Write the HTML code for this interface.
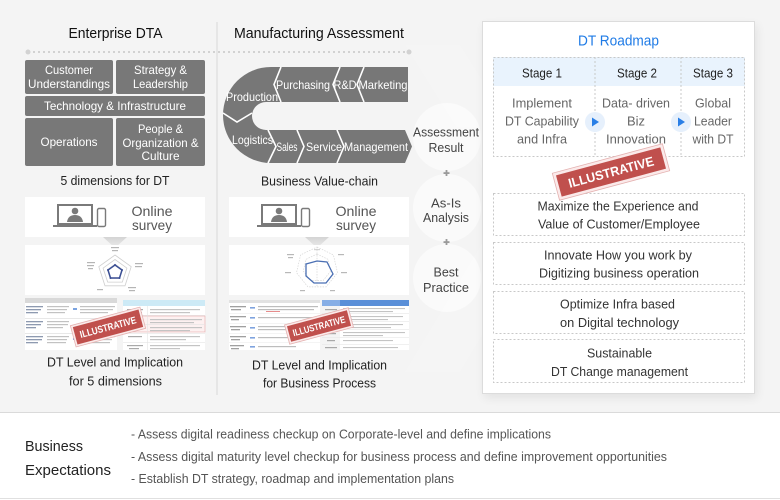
<!DOCTYPE html>
<html>
<head>
<meta charset="utf-8">
<style>
html,body{margin:0;padding:0;width:780px;height:500px;overflow:hidden;background:#fff}
svg{display:block}
text{font-family:"Liberation Sans","Noto Sans CJK KR",sans-serif}
</style>
</head>
<body>
<svg width="780" height="500" viewBox="0 0 780 500" xmlns="http://www.w3.org/2000/svg">
<defs>
  <filter id="sh" x="-20%" y="-20%" width="140%" height="140%"><feGaussianBlur stdDeviation="5"/></filter>
  <linearGradient id="tri" x1="0" y1="0" x2="0" y2="1"><stop offset="0" stop-color="#d4d4d4"/><stop offset="1" stop-color="#ececec"/></linearGradient>
</defs>

<!-- backgrounds -->
<rect x="0" y="0" width="780" height="412" fill="#f4f4f4"/>
<polygon points="405,45 460,45 560,205 460,372 405,372 505,205" fill="#ffffff" opacity="0.12"/>
<rect x="0" y="412" width="780" height="1" fill="#dadada"/>
<rect x="0" y="498" width="780" height="1" fill="#e0e0e0"/>

<!-- divider + dotted line -->
<rect x="216" y="22" width="2" height="373" fill="#e6e6e6"/>
<line x1="28" y1="52" x2="409" y2="52" stroke="#d2d2d2" stroke-width="2" stroke-dasharray="2 3"/>
<circle cx="28" cy="52" r="2.5" fill="#d2d2d2"/>
<circle cx="409" cy="52" r="2.5" fill="#d2d2d2"/>

<!-- ================= Column 1 ================= -->
<text x="115.5" y="38" text-anchor="middle" font-size="15" fill="#111" textLength="94" lengthAdjust="spacingAndGlyphs">Enterprise DTA</text>

<g fill="#787878">
  <rect x="25" y="60" width="88" height="34" rx="2"/>
  <rect x="116" y="60" width="89" height="34" rx="2"/>
  <rect x="25" y="96" width="180" height="20" rx="2"/>
  <rect x="25" y="118" width="88" height="48" rx="2"/>
  <rect x="116" y="118" width="89" height="48" rx="2"/>
</g>
<g fill="#ffffff" font-size="12" text-anchor="middle">
  <text x="69" y="74" textLength="48" lengthAdjust="spacingAndGlyphs">Customer</text>
  <text x="69" y="88" textLength="82" lengthAdjust="spacingAndGlyphs">Understandings</text>
  <text x="160.5" y="74" textLength="53" lengthAdjust="spacingAndGlyphs">Strategy &amp;</text>
  <text x="160.5" y="88" textLength="55" lengthAdjust="spacingAndGlyphs">Leadership</text>
  <text x="115" y="110" textLength="142" lengthAdjust="spacingAndGlyphs">Technology &amp; Infrastructure</text>
  <text x="69" y="146" textLength="57" lengthAdjust="spacingAndGlyphs">Operations</text>
  <text x="160.5" y="133" textLength="45" lengthAdjust="spacingAndGlyphs">People &amp;</text>
  <text x="160.5" y="147" textLength="76" lengthAdjust="spacingAndGlyphs">Organization &amp;</text>
  <text x="160.5" y="160" textLength="38" lengthAdjust="spacingAndGlyphs">Culture</text>
</g>
<text x="115" y="185" text-anchor="middle" font-size="13" fill="#222" textLength="109" lengthAdjust="spacingAndGlyphs">5 dimensions for DT</text>

<!-- online survey 1 -->
<rect x="25" y="197" width="180" height="40" fill="#fff"/>
<g>
  <rect x="58" y="205" width="34" height="19" fill="#fff" stroke="#7a7a7a" stroke-width="2"/>
  <circle cx="75" cy="211" r="3.3" fill="#7a7a7a"/>
  <path d="M67,222 Q68,215 75,215 Q82,215 83,222 Z" fill="#7a7a7a"/>
  <rect x="53" y="225" width="44" height="2" fill="#7a7a7a"/>
  <rect x="97.5" y="208.5" width="8" height="18" rx="1.5" fill="#fff" stroke="#7a7a7a" stroke-width="1.4"/>
</g>
<text x="152" y="216" text-anchor="middle" font-size="14" fill="#555" textLength="41" lengthAdjust="spacingAndGlyphs">Online</text>
<text x="152" y="230" text-anchor="middle" font-size="14" fill="#555" textLength="40" lengthAdjust="spacingAndGlyphs">survey</text>
<polygon points="103,237 127,237 115,248" fill="url(#tri)"/>

<!-- radar 1 -->
<rect x="25" y="245" width="180" height="50" fill="#fff"/>
<g fill="none" stroke="#cfcfcf" stroke-width="0.8">
  <polygon points="115,255 131.2,266.7 125,285.8 105,285.8 98.8,266.7"/>
  <polygon points="115,259.5 126.9,268.1 122.3,282.1 107.7,282.1 103.1,268.1"/>
  <polygon points="115,264 122.6,269.5 119.7,278.5 110.3,278.5 107.4,269.5" stroke="#e0e0e0"/>
</g>
<polygon points="115,265 122,270 119.5,278 110.5,278 108,270" fill="none" stroke="#3b4f94" stroke-width="1.5"/>
<g fill="#3b4f94">
  <circle cx="115" cy="265" r="1"/><circle cx="122" cy="270" r="1"/><circle cx="119.5" cy="278" r="1"/><circle cx="110.5" cy="278" r="1"/><circle cx="108" cy="270" r="1"/>
</g>
<g fill="#b5b5b5">
  <rect x="111" y="247" width="8" height="1.2"/><rect x="112" y="250" width="6" height="1.2"/>
  <rect x="135" y="263" width="8" height="1.2"/><rect x="135" y="266" width="7" height="1.2"/>
  <rect x="128" y="287" width="8" height="1.2"/><rect x="129" y="290" width="6" height="1.2"/>
  <rect x="97" y="289" width="6" height="1.2"/>
  <rect x="87" y="262" width="8" height="1.2"/><rect x="87" y="265" width="7" height="1.2"/><rect x="88" y="268" width="5" height="1.2"/>
</g>

<!-- table 1 -->
<g>
  <rect x="25" y="298" width="92" height="52" fill="#fff"/>
  <rect x="25" y="298" width="92" height="5" fill="#d9d9d9"/>
  <rect x="25" y="318" width="92" height="0.8" fill="#e2e2e2"/>
  <rect x="25" y="333" width="92" height="0.8" fill="#e2e2e2"/>
  <g fill="#8e9ab0">
    <rect x="26" y="306" width="17" height="1.3"/><rect x="26" y="309" width="15" height="1.3"/><rect x="26" y="312" width="12" height="1.3"/>
    <rect x="26" y="321" width="17" height="1.3"/><rect x="26" y="324" width="15" height="1.3"/><rect x="26" y="327" width="10" height="1.3"/>
    <rect x="26" y="336" width="17" height="1.3"/><rect x="26" y="339" width="16" height="1.3"/><rect x="26" y="342" width="12" height="1.3"/>
  </g>
  <g fill="#c2c2c2">
    <rect x="47" y="306" width="22" height="1.2"/><rect x="47" y="309" width="20" height="1.2"/><rect x="47" y="312" width="18" height="1.2"/>
    <rect x="47" y="321" width="22" height="1.2"/><rect x="47" y="324" width="21" height="1.2"/><rect x="47" y="327" width="16" height="1.2"/>
    <rect x="47" y="336" width="22" height="1.2"/><rect x="47" y="339" width="20" height="1.2"/><rect x="47" y="342" width="19" height="1.2"/>
    <rect x="80" y="306" width="35" height="1.2"/><rect x="80" y="309" width="33" height="1.2"/><rect x="80" y="312" width="28" height="1.2"/>
    <rect x="80" y="336" width="35" height="1.2"/><rect x="80" y="339" width="32" height="1.2"/><rect x="80" y="342" width="30" height="1.2"/>
  </g>
  <rect x="73" y="308" width="4" height="2" fill="#7ba3e0"/>
  <rect x="73" y="338" width="4" height="2" fill="#7ba3e0"/>

  <rect x="123" y="300" width="82" height="50" fill="#fff"/>
  <rect x="123" y="300" width="82" height="6" fill="#cdeaf6"/>
  <rect x="123" y="316" width="82" height="16" fill="#fdf1f1" stroke="#e6a8a8" stroke-width="0.6"/>
  <g fill="#e4e4e4">
    <rect x="123" y="315" width="82" height="0.6"/><rect x="123" y="324" width="82" height="0.6"/><rect x="123" y="333" width="82" height="0.6"/><rect x="123" y="342" width="82" height="0.6"/>
    <rect x="147" y="306" width="0.6" height="44"/>
  </g>
  <g fill="#a9a9a9">
    <rect x="127" y="309" width="16" height="1.2"/><rect x="128" y="312" width="14" height="1.2"/>
    <rect x="128" y="336" width="14" height="1.2"/>
    <rect x="127" y="345" width="16" height="1.2"/><rect x="129" y="348" width="10" height="1.2"/>
  </g>
  <g fill="#c4c4c4">
    <rect x="150" y="309" width="50" height="1.2"/><rect x="150" y="312" width="40" height="1.2"/>
    <rect x="150" y="319" width="52" height="1.2"/><rect x="150" y="322" width="44" height="1.2"/>
    <rect x="150" y="327" width="52" height="1.2"/><rect x="150" y="330" width="40" height="1.2"/>
    <rect x="150" y="336" width="50" height="1.2"/><rect x="150" y="339" width="36" height="1.2"/>
    <rect x="150" y="345" width="50" height="1.2"/><rect x="150" y="348" width="30" height="1.2"/>
  </g>
</g>
<g transform="translate(108,327) rotate(-15)">
  <rect x="-36" y="-11" width="72" height="22" fill="#fbeaea" stroke="#e4b1b0" stroke-width="0.8"/>
  <rect x="-34" y="-9" width="68" height="18" fill="#c0504d"/>
  <text x="0" y="3.6" text-anchor="middle" font-size="10" font-weight="bold" fill="#fff" textLength="58" lengthAdjust="spacingAndGlyphs">ILLUSTRATIVE</text>
</g>
<text x="115" y="366.5" text-anchor="middle" font-size="13" fill="#222" textLength="136" lengthAdjust="spacingAndGlyphs">DT Level and Implication</text>
<text x="115.5" y="385.5" text-anchor="middle" font-size="13" fill="#222" textLength="93" lengthAdjust="spacingAndGlyphs">for 5 dimensions</text>

<!-- ================= Column 2 ================= -->
<text x="319" y="38" text-anchor="middle" font-size="15" fill="#111" textLength="170" lengthAdjust="spacingAndGlyphs">Manufacturing Assessment</text>

<path d="M408,67 L271,67 A48,48 0 0 0 271,163 L405,163 L412,146.5 L405,130 L266,130 A14,14 0 0 1 266,102 L408,102 Z" fill="#777777"/>
<g fill="none" stroke="#ffffff" stroke-width="1.6">
  <polyline points="281,67 274,84.5 281,102"/>
  <polyline points="340,67 333,84.5 340,102"/>
  <polyline points="364,67 357,84.5 364,102"/>
  <polyline points="268,130 276,146.5 268,163"/>
  <polyline points="297,130 304,146.5 297,163"/>
  <polyline points="337,130 344,146.5 337,163"/>
  <polyline points="223,113 237,122 252,113"/>
</g>
<g fill="#ffffff" font-size="12" text-anchor="middle">
  <text x="252" y="101" textLength="52" lengthAdjust="spacingAndGlyphs">Production</text>
  <text x="303" y="89" textLength="54" lengthAdjust="spacingAndGlyphs">Purchasing</text>
  <text x="345" y="89" textLength="23" lengthAdjust="spacingAndGlyphs">R&amp;D</text>
  <text x="383" y="89" textLength="49" lengthAdjust="spacingAndGlyphs">Marketing</text>
  <text x="252.5" y="144" textLength="41" lengthAdjust="spacingAndGlyphs">Logistics</text>
  <text x="287" y="151" textLength="21" lengthAdjust="spacingAndGlyphs">Sales</text>
  <text x="324" y="151" textLength="36" lengthAdjust="spacingAndGlyphs">Service</text>
  <text x="376" y="151" textLength="64" lengthAdjust="spacingAndGlyphs">Management</text>
</g>
<text x="319.5" y="185.5" text-anchor="middle" font-size="13" fill="#222" textLength="117" lengthAdjust="spacingAndGlyphs">Business Value-chain</text>

<!-- online survey 2 -->
<rect x="229" y="197" width="180" height="40" fill="#fff"/>
<g>
  <rect x="262" y="205" width="34" height="19" fill="#fff" stroke="#7a7a7a" stroke-width="2"/>
  <circle cx="279" cy="211" r="3.3" fill="#7a7a7a"/>
  <path d="M271,222 Q272,215 279,215 Q286,215 287,222 Z" fill="#7a7a7a"/>
  <rect x="257" y="225" width="44" height="2" fill="#7a7a7a"/>
  <rect x="301.5" y="208.5" width="8" height="18" rx="1.5" fill="#fff" stroke="#7a7a7a" stroke-width="1.4"/>
</g>
<text x="356" y="216" text-anchor="middle" font-size="14" fill="#555" textLength="41" lengthAdjust="spacingAndGlyphs">Online</text>
<text x="356" y="230" text-anchor="middle" font-size="14" fill="#555" textLength="40" lengthAdjust="spacingAndGlyphs">survey</text>
<polygon points="305,237 329,237 317,248" fill="url(#tri)"/>

<!-- radar 2 -->
<rect x="229" y="245" width="180" height="50" fill="#fff"/>
<g fill="none" stroke="#d6d6d6" stroke-width="0.7" stroke-dasharray="1.5 1.2">
  <polygon points="317,247 333.4,254.9 337.5,272.7 326.1,286.9 307.9,286.9 296.5,272.7 300.6,254.9"/>
  <polygon points="317,254 327.9,259.3 330.7,271.1 323.1,280.6 310.9,280.6 303.3,271.1 306.1,259.3"/>
  <line x1="317" y1="247" x2="317" y2="287"/>
</g>
<polygon points="317,261 327,262 333,274 326,283 314,283 306,276 306,264" fill="none" stroke="#4a6fb3" stroke-width="1.3"/>
<g fill="#b8b8b8">
  <rect x="287" y="254" width="7" height="1.2"/><rect x="288" y="257" width="5" height="1.2"/>
  <rect x="338" y="254" width="6" height="1.2"/>
  <rect x="341" y="272" width="6" height="1.2"/>
  <rect x="330" y="290" width="5" height="1.2"/>
  <rect x="300" y="290" width="5" height="1.2"/>
  <rect x="285" y="272" width="6" height="1.2"/>
  <rect x="314" y="249" width="6" height="1.2" opacity="0.6"/>
</g>

<!-- table 2 -->
<g>
  <rect x="229" y="300" width="91" height="50" fill="#fff"/>
  <rect x="229" y="300" width="91" height="3" fill="#e2e2e2"/>
  <g fill="#ececec">
    <rect x="229" y="313" width="91" height="0.6"/><rect x="229" y="323" width="91" height="0.6"/><rect x="229" y="333" width="91" height="0.6"/><rect x="229" y="342" width="91" height="0.6"/>
  </g>
  <g fill="#a0a0a0">
    <rect x="230" y="306" width="16" height="1.3"/><rect x="231" y="309" width="10" height="1.3"/>
    <rect x="230" y="316" width="16" height="1.3"/><rect x="231" y="319" width="8" height="1.3"/>
    <rect x="230" y="326" width="16" height="1.3"/><rect x="231" y="329" width="9" height="1.3"/>
    <rect x="230" y="336" width="16" height="1.3"/><rect x="231" y="339" width="9" height="1.3"/>
    <rect x="230" y="345" width="14" height="1.3"/><rect x="231" y="348" width="8" height="1.3"/>
  </g>
  <g fill="#7fa3de">
    <rect x="250" y="307" width="5" height="1.6"/><rect x="250" y="317" width="5" height="1.6"/><rect x="250" y="327" width="5" height="1.6"/><rect x="250" y="337" width="5" height="1.6"/><rect x="250" y="346" width="5" height="1.6"/>
  </g>
  <g fill="#bdbdbd">
    <rect x="258" y="306" width="60" height="1.2"/><rect x="258" y="309" width="56" height="1.2"/>
    <rect x="258" y="317" width="58" height="1.2"/>
    <rect x="258" y="326" width="40" height="1.2"/><rect x="258" y="329" width="34" height="1.2"/>
    <rect x="258" y="337" width="45" height="1.2"/>
    <rect x="258" y="346" width="38" height="1.2"/>
  </g>
  <rect x="266" y="311" width="14" height="0.8" fill="#e07070"/>

  <rect x="322" y="300" width="87" height="50" fill="#fff"/>
  <rect x="322" y="300" width="87" height="6" fill="#5a8fd8"/>
  <rect x="322" y="300" width="18" height="6" fill="#86aee6"/>
  <rect x="322" y="306" width="18" height="44" fill="#f4f4f4"/>
  <g fill="#e6e6e6">
    <rect x="322" y="313" width="87" height="0.6"/><rect x="322" y="321" width="87" height="0.6"/><rect x="322" y="329" width="87" height="0.6"/><rect x="322" y="337" width="87" height="0.6"/><rect x="322" y="344" width="87" height="0.6"/>
  </g>
  <g fill="#a8a8a8">
    <rect x="325" y="309" width="12" height="1.2"/><rect x="326" y="317" width="10" height="1.2"/><rect x="326" y="325" width="10" height="1.2"/><rect x="326" y="333" width="10" height="1.2"/><rect x="327" y="340" width="8" height="1.2"/><rect x="325" y="347" width="12" height="1.2"/>
  </g>
  <g fill="#c4c4c4">
    <rect x="343" y="308" width="62" height="1.1"/><rect x="343" y="311" width="50" height="1.1"/>
    <rect x="343" y="316" width="60" height="1.1"/><rect x="343" y="319" width="45" height="1.1"/>
    <rect x="343" y="324" width="60" height="1.1"/><rect x="343" y="327" width="48" height="1.1"/>
    <rect x="343" y="332" width="62" height="1.1"/><rect x="343" y="335" width="40" height="1.1"/>
    <rect x="343" y="340" width="50" height="1.1"/>
    <rect x="343" y="347" width="55" height="1.1"/>
  </g>
</g>
<g transform="translate(319,326) rotate(-15)">
  <rect x="-33" y="-10" width="66" height="20" fill="#fbeaea" stroke="#e4b1b0" stroke-width="0.8"/>
  <rect x="-31" y="-8" width="62" height="16" fill="#c0504d"/>
  <text x="0" y="3.4" text-anchor="middle" font-size="9.5" font-weight="bold" fill="#fff" textLength="54" lengthAdjust="spacingAndGlyphs">ILLUSTRATIVE</text>
</g>
<text x="319.5" y="369.5" text-anchor="middle" font-size="13" fill="#222" textLength="135" lengthAdjust="spacingAndGlyphs">DT Level and Implication</text>
<text x="319.5" y="387.5" text-anchor="middle" font-size="13" fill="#222" textLength="113" lengthAdjust="spacingAndGlyphs">for Business Process</text>

<!-- ================= Assessment circles ================= -->
<g fill="#ffffff" opacity="0.55">
  <circle cx="447" cy="137" r="34"/>
  <circle cx="447" cy="208" r="34"/>
  <circle cx="447" cy="278" r="34"/>
</g>
<g font-size="13" fill="#444" text-anchor="middle">
  <text x="446" y="136.5" textLength="66" lengthAdjust="spacingAndGlyphs">Assessment</text>
  <text x="446" y="152" textLength="35" lengthAdjust="spacingAndGlyphs">Result</text>
  <text x="446" y="207.5" textLength="30" lengthAdjust="spacingAndGlyphs">As-Is</text>
  <text x="446" y="222" textLength="46" lengthAdjust="spacingAndGlyphs">Analysis</text>
  <text x="446" y="276.5" textLength="25" lengthAdjust="spacingAndGlyphs">Best</text>
  <text x="446" y="292" textLength="46" lengthAdjust="spacingAndGlyphs">Practice</text>
</g>
<g fill="#9a9a9a">
  <rect x="443.5" y="172.2" width="6" height="1.8"/><rect x="445.6" y="170" width="1.8" height="6"/>
  <rect x="443.5" y="241.2" width="6" height="1.8"/><rect x="445.6" y="239" width="1.8" height="6"/>
</g>

<!-- ================= Roadmap box ================= -->
<rect x="484" y="25" width="273" height="373" fill="#000" opacity="0.07" filter="url(#sh)"/>
<rect x="482.5" y="21.5" width="272" height="372" fill="#fff" stroke="#dcdcdc" stroke-width="1"/>
<text x="618.5" y="45.5" text-anchor="middle" font-size="15" fill="#1f7be6" textLength="81" lengthAdjust="spacingAndGlyphs">DT Roadmap</text>

<rect x="493" y="57" width="252" height="29" fill="#e9f3fd"/>
<g fill="none" stroke="#c8c8c8" stroke-width="1" stroke-dasharray="2 2">
  <rect x="493.5" y="57.5" width="251" height="99"/>
  <line x1="595" y1="57" x2="595" y2="157"/>
  <line x1="681" y1="57" x2="681" y2="157"/>
</g>
<g font-size="13" fill="#222" text-anchor="middle">
  <text x="542" y="77.5" textLength="40" lengthAdjust="spacingAndGlyphs">Stage 1</text>
  <text x="637" y="77.5" textLength="40" lengthAdjust="spacingAndGlyphs">Stage 2</text>
  <text x="713" y="77.5" textLength="40" lengthAdjust="spacingAndGlyphs">Stage 3</text>
</g>
<g font-size="13" fill="#666" text-anchor="middle">
  <text x="542" y="107.5" textLength="60" lengthAdjust="spacingAndGlyphs">Implement</text>
  <text x="542" y="125.5" textLength="74" lengthAdjust="spacingAndGlyphs">DT Capability</text>
  <text x="542" y="143.5" textLength="50" lengthAdjust="spacingAndGlyphs">and Infra</text>
  <text x="636" y="107.5" textLength="68" lengthAdjust="spacingAndGlyphs">Data- driven</text>
  <text x="636" y="125.5" textLength="18" lengthAdjust="spacingAndGlyphs">Biz</text>
  <text x="636" y="143.5" textLength="60" lengthAdjust="spacingAndGlyphs">Innovation</text>
  <text x="713" y="107.5" textLength="36" lengthAdjust="spacingAndGlyphs">Global</text>
  <text x="713" y="125.5" textLength="38" lengthAdjust="spacingAndGlyphs">Leader</text>
  <text x="713" y="143.5" textLength="41" lengthAdjust="spacingAndGlyphs">with DT</text>
</g>
<circle cx="595" cy="122" r="10" fill="#e6f0fc"/>
<polygon points="592,117.5 592,126.5 599,122" fill="#2a7fe6"/>
<circle cx="681" cy="122" r="10" fill="#e6f0fc"/>
<polygon points="678,117.5 678,126.5 685,122" fill="#2a7fe6"/>

<g fill="none" stroke="#c8c8c8" stroke-width="1" stroke-dasharray="2 2">
  <rect x="493.5" y="193.5" width="251" height="42"/>
  <rect x="493.5" y="242.5" width="251" height="42"/>
  <rect x="493.5" y="291.5" width="251" height="42"/>
  <rect x="493.5" y="339.5" width="251" height="43"/>
</g>
<g font-size="13" fill="#333" text-anchor="middle">
  <text x="618" y="210.5" textLength="161" lengthAdjust="spacingAndGlyphs">Maximize the Experience and</text>
  <text x="619" y="228.5" textLength="162" lengthAdjust="spacingAndGlyphs">Value of Customer/Employee</text>
  <text x="618" y="259.5" textLength="148" lengthAdjust="spacingAndGlyphs">Innovate How you work by</text>
  <text x="619" y="277.5" textLength="160" lengthAdjust="spacingAndGlyphs">Digitizing business operation</text>
  <text x="617.5" y="308.5" textLength="115" lengthAdjust="spacingAndGlyphs">Optimize Infra based</text>
  <text x="619.5" y="327" textLength="119" lengthAdjust="spacingAndGlyphs">on Digital technology</text>
  <text x="619.5" y="357.5" textLength="65" lengthAdjust="spacingAndGlyphs">Sustainable</text>
  <text x="619.5" y="376" textLength="137" lengthAdjust="spacingAndGlyphs">DT Change management</text>
</g>

<g transform="translate(611,172) rotate(-15)">
  <rect x="-57" y="-14" width="114" height="28" fill="#fbeaea" stroke="#e4b1b0" stroke-width="0.8"/>
  <rect x="-54" y="-11" width="108" height="22" fill="#c0504d"/>
  <text x="0" y="4.6" text-anchor="middle" font-size="13" font-weight="bold" fill="#fff" textLength="88" lengthAdjust="spacingAndGlyphs">ILLUSTRATIVE</text>
</g>

<!-- ================= Bottom ================= -->
<text x="25" y="451" font-size="15" fill="#222" textLength="58" lengthAdjust="spacingAndGlyphs">Business</text>
<text x="25" y="475" font-size="15" fill="#222" textLength="86" lengthAdjust="spacingAndGlyphs">Expectations</text>
<g font-size="12.5" fill="#555">
  <text x="131" y="438.5" textLength="420" lengthAdjust="spacingAndGlyphs">- Assess digital readiness checkup on Corporate-level and define implications</text>
  <text x="131" y="461" textLength="536" lengthAdjust="spacingAndGlyphs">- Assess digital maturity level checkup for business process and define improvement opportunities</text>
  <text x="131" y="483" textLength="323" lengthAdjust="spacingAndGlyphs">- Establish DT strategy, roadmap and implementation plans</text>
</g>
</svg>
</body>
</html>
